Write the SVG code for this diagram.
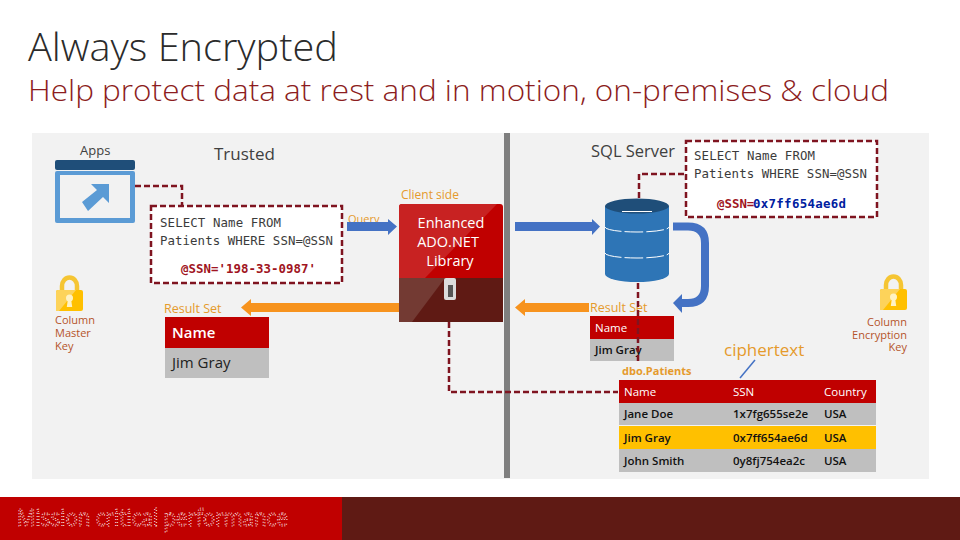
<svg xmlns="http://www.w3.org/2000/svg" width="960" height="540" viewBox="0 0 960 540">
<style>
text{font-family:"Open Sans","Noto Sans","Liberation Sans",sans-serif;}
.mono{font-family:"DejaVu Sans Mono","Liberation Mono",monospace;font-size:12.4px;fill:#3b3b3b;}
.monob{font-family:"DejaVu Sans Mono","Liberation Mono",monospace;font-size:12.4px;font-weight:bold;}
.dash{fill:none;stroke:#7f1420;stroke-width:2.500;stroke-dasharray:6 3;}
.box{fill:#fff;stroke:#7f1420;stroke-width:2.500;stroke-dasharray:6 3;}
.org{fill:#e59a2c;}
.key{fill:#b5542a;font-size:11px;}
.cell{font-size:11.500px;fill:#111;font-weight:600;}
.th{font-size:11.500px;fill:#fff;}
.blue{fill:#4472c4;}
.orange{fill:#f7931e;}
</style>
<defs>
<g id="lock">
<path d="M6 16V10a7.500 8.500 0 0 1 15 0V16" fill="none" stroke="#f5c533" stroke-width="4.500"/>
<rect x="0" y="14" width="27" height="21" rx="2" fill="#ffc000"/>
<path d="M0 35V16a2 2 0 0 1 2-2H20L3 35Z" fill="#fdd35a"/>
<circle cx="13.500" cy="22" r="3.500" fill="#fff2c4"/>
<path d="M11.800 24L10.800 31H16.200L15.200 24Z" fill="#fff2c4"/>
</g>
</defs>
<rect width="960" height="540" fill="#fff"/>
<text x="28" y="61" font-size="38" font-weight="300" fill="#2b2b2b" textLength="310" lengthAdjust="spacingAndGlyphs">Always Encrypted</text>
<text x="28" y="101" font-size="30" font-weight="300" fill="#8c1c20" textLength="861" lengthAdjust="spacingAndGlyphs">Help protect data at rest and in motion, on-premises &amp; cloud</text>
<rect x="32" y="133" width="897" height="346" fill="#f2f2f2"/>
<rect x="504" y="133" width="6" height="345" fill="#7f7f7f"/>
<g id="footer">
<rect x="0" y="497" width="342" height="43" fill="#c00000"/>
<rect x="342" y="497" width="618" height="43" fill="#5f1a14"/>
<text x="17" y="526" font-size="24" fill="none" stroke="#fff" stroke-width="1" stroke-dasharray="1 2" textLength="271" lengthAdjust="spacingAndGlyphs">Mission critical performance</text>
</g>
<text x="214" y="160" font-size="17" fill="#404040">Trusted</text>
<text x="591" y="157" font-size="16.500" fill="#404040">SQL Server</text>
<text x="401" y="199" font-size="12" class="org">Client side</text>
<g id="apps">
<text x="80" y="155" font-size="13" fill="#404040">Apps</text>
<rect x="55" y="160" width="80" height="10" rx="2" fill="#1f4e79"/>
<rect x="55" y="171" width="80" height="52" rx="2" fill="#5b9bd5"/>
<rect x="60" y="175" width="70" height="43" fill="#f2f2f2"/>
<path d="M82 202L97 190L91 184H109V203L103 197L88 211Z" fill="#5b9bd5"/>
</g>
<g id="client-query">
<rect x="151" y="206" width="191" height="77" class="box"/>
<text x="160" y="227" class="mono" textLength="121">SELECT Name FROM</text>
<text x="160" y="245" class="mono" textLength="173">Patients WHERE SSN=@SSN</text>
<text x="181" y="273" class="monob" fill="#a01422" textLength="135">@SSN='198-33-0987'</text>
</g>
<g id="column-master-key">
<use href="#lock" x="56" y="276"/>
<text x="55" y="324" class="key">Column</text>
<text x="55" y="337" class="key">Master</text>
<text x="55" y="350" class="key">Key</text>
</g>
<text x="348" y="223" font-size="11" class="org">Query</text>
<g id="client-result">
<text x="164" y="313" font-size="12.500" class="org">Result Set</text>
<rect x="165" y="317" width="104" height="31" fill="#c00000"/>
<rect x="165" y="348" width="104" height="30" fill="#bfbfbf"/>
<text x="172" y="338" font-size="15" font-weight="600" fill="#fff">Name</text>
<text x="172" y="368" font-size="15" fill="#222">Jim Gray</text>
</g>
<g id="ado-library">
<path d="M399 278V207a3 3 0 0 1 3-3H500a3 3 0 0 1 3 3V278Z" fill="#c00000"/>
<path d="M399 278V207a3 3 0 0 1 3-3H497L425 278Z" fill="#c82222"/>
<rect x="399" y="278" width="104" height="44" fill="#5f1a14"/>
<path d="M399 278H445L412 322H399Z" fill="#733a33"/>
<text x="451" y="228" font-size="14.500" fill="#fff" text-anchor="middle">Enhanced</text>
<text x="448" y="247" font-size="14.500" fill="#fff" text-anchor="middle">ADO.NET</text>
<text x="450" y="266" font-size="14.500" fill="#fff" text-anchor="middle">Library</text>
<rect x="444" y="278" width="12" height="22" rx="2" fill="#dcdcdc"/>
<rect x="448" y="285" width="5" height="12" fill="#555"/>
</g>
<g id="database">
<path d="M605 206V274a32 8 0 0 0 64 0V206Z" fill="#2e75b6"/>
<ellipse cx="637" cy="206" rx="32" ry="7.500" fill="#1f4e79"/>
<path d="M605 227a32 5 0 0 0 64 0M605 253a32 5 0 0 0 64 0" fill="none" stroke="#fff" stroke-width="1" stroke-dasharray="18 3"/>
<path d="M622 211.500H652" stroke="#fff" stroke-width="1"/>
</g>
<g id="server-query">
<rect x="686" y="141" width="191" height="76" class="box"/>
<text x="694" y="160" class="mono" textLength="121">SELECT Name FROM</text>
<text x="694" y="178" class="mono" textLength="173">Patients WHERE SSN=@SSN</text>
<text x="717" y="208" class="monob" fill="#a01422">@SSN=</text>
<text x="753" y="208" class="monob" fill="#00209f" textLength="93">0x7ff654ae6d</text>
</g>
<g id="server-result">
<text x="590" y="312" font-size="12.500" class="org">Result Set</text>
<rect x="590" y="316" width="84" height="23" fill="#c00000"/>
<rect x="590" y="339" width="84" height="22" fill="#bfbfbf"/>
<text x="595" y="332" class="th">Name</text>
<text x="595" y="354" class="cell">Jim Gray</text>
</g>
<g id="ciphertext">
<text x="724" y="356" font-size="17" class="org">ciphertext</text>
</g>
<g id="column-encryption-key">
<use href="#lock" x="880" y="275"/>
<text x="907" y="326" class="key" text-anchor="end">Column</text>
<text x="907" y="339" class="key" text-anchor="end">Encryption</text>
<text x="907" y="351" class="key" text-anchor="end">Key</text>
</g>
<g id="patients-table">
<text x="622" y="375" font-size="11" font-weight="bold" class="org">dbo.Patients</text>
<rect x="619" y="380" width="257" height="23" fill="#c00000"/>
<rect x="619" y="403" width="257" height="22" fill="#bfbfbf"/>
<rect x="619" y="426" width="257" height="23" fill="#ffc000"/>
<rect x="619" y="449" width="257" height="23" fill="#bfbfbf"/>
<text x="624" y="396" class="th">Name</text><text x="733" y="396" class="th">SSN</text><text x="824" y="396" class="th">Country</text>
<text x="624" y="418" class="cell">Jane Doe</text><text x="733" y="418" class="cell">1x7fg655se2e</text><text x="824" y="418" class="cell">USA</text>
<text x="624" y="442" class="cell">Jim Gray</text><text x="733" y="442" class="cell">0x7ff654ae6d</text><text x="824" y="442" class="cell">USA</text>
<text x="624" y="465" class="cell">John Smith</text><text x="733" y="465" class="cell">0y8fj754ea2c</text><text x="824" y="465" class="cell">USA</text>
</g>
<g id="connectors">
<path class="dash" d="M135 186H182V205"/>
<path class="dash" d="M684 174H639V199"/>
<path class="dash" d="M638 283V362"/>
<path class="dash" d="M449 322V392H618"/>
<path class="blue" d="M347 222H388V219L397 226.500L388 235V231H347Z"/>
<path class="blue" d="M515 222H592V219L600 226.500L592 235V231H515Z"/>
<path d="M673 226.500H688Q705 226.500 705 243V286Q705 303 688 303H680" fill="none" stroke="#4472c4" stroke-width="8"/>
<path class="blue" d="M682 294L673 303L682 313Z"/>
<path class="orange" d="M589 303H525V299L515 307.500L525 316V312H589Z"/>
<path class="orange" d="M399 303H251V299L241 307.500L251 316V312H399Z"/>
<path d="M755 360L740 378" stroke="#4472c4" stroke-width="1.500"/>
</g>
</svg>
